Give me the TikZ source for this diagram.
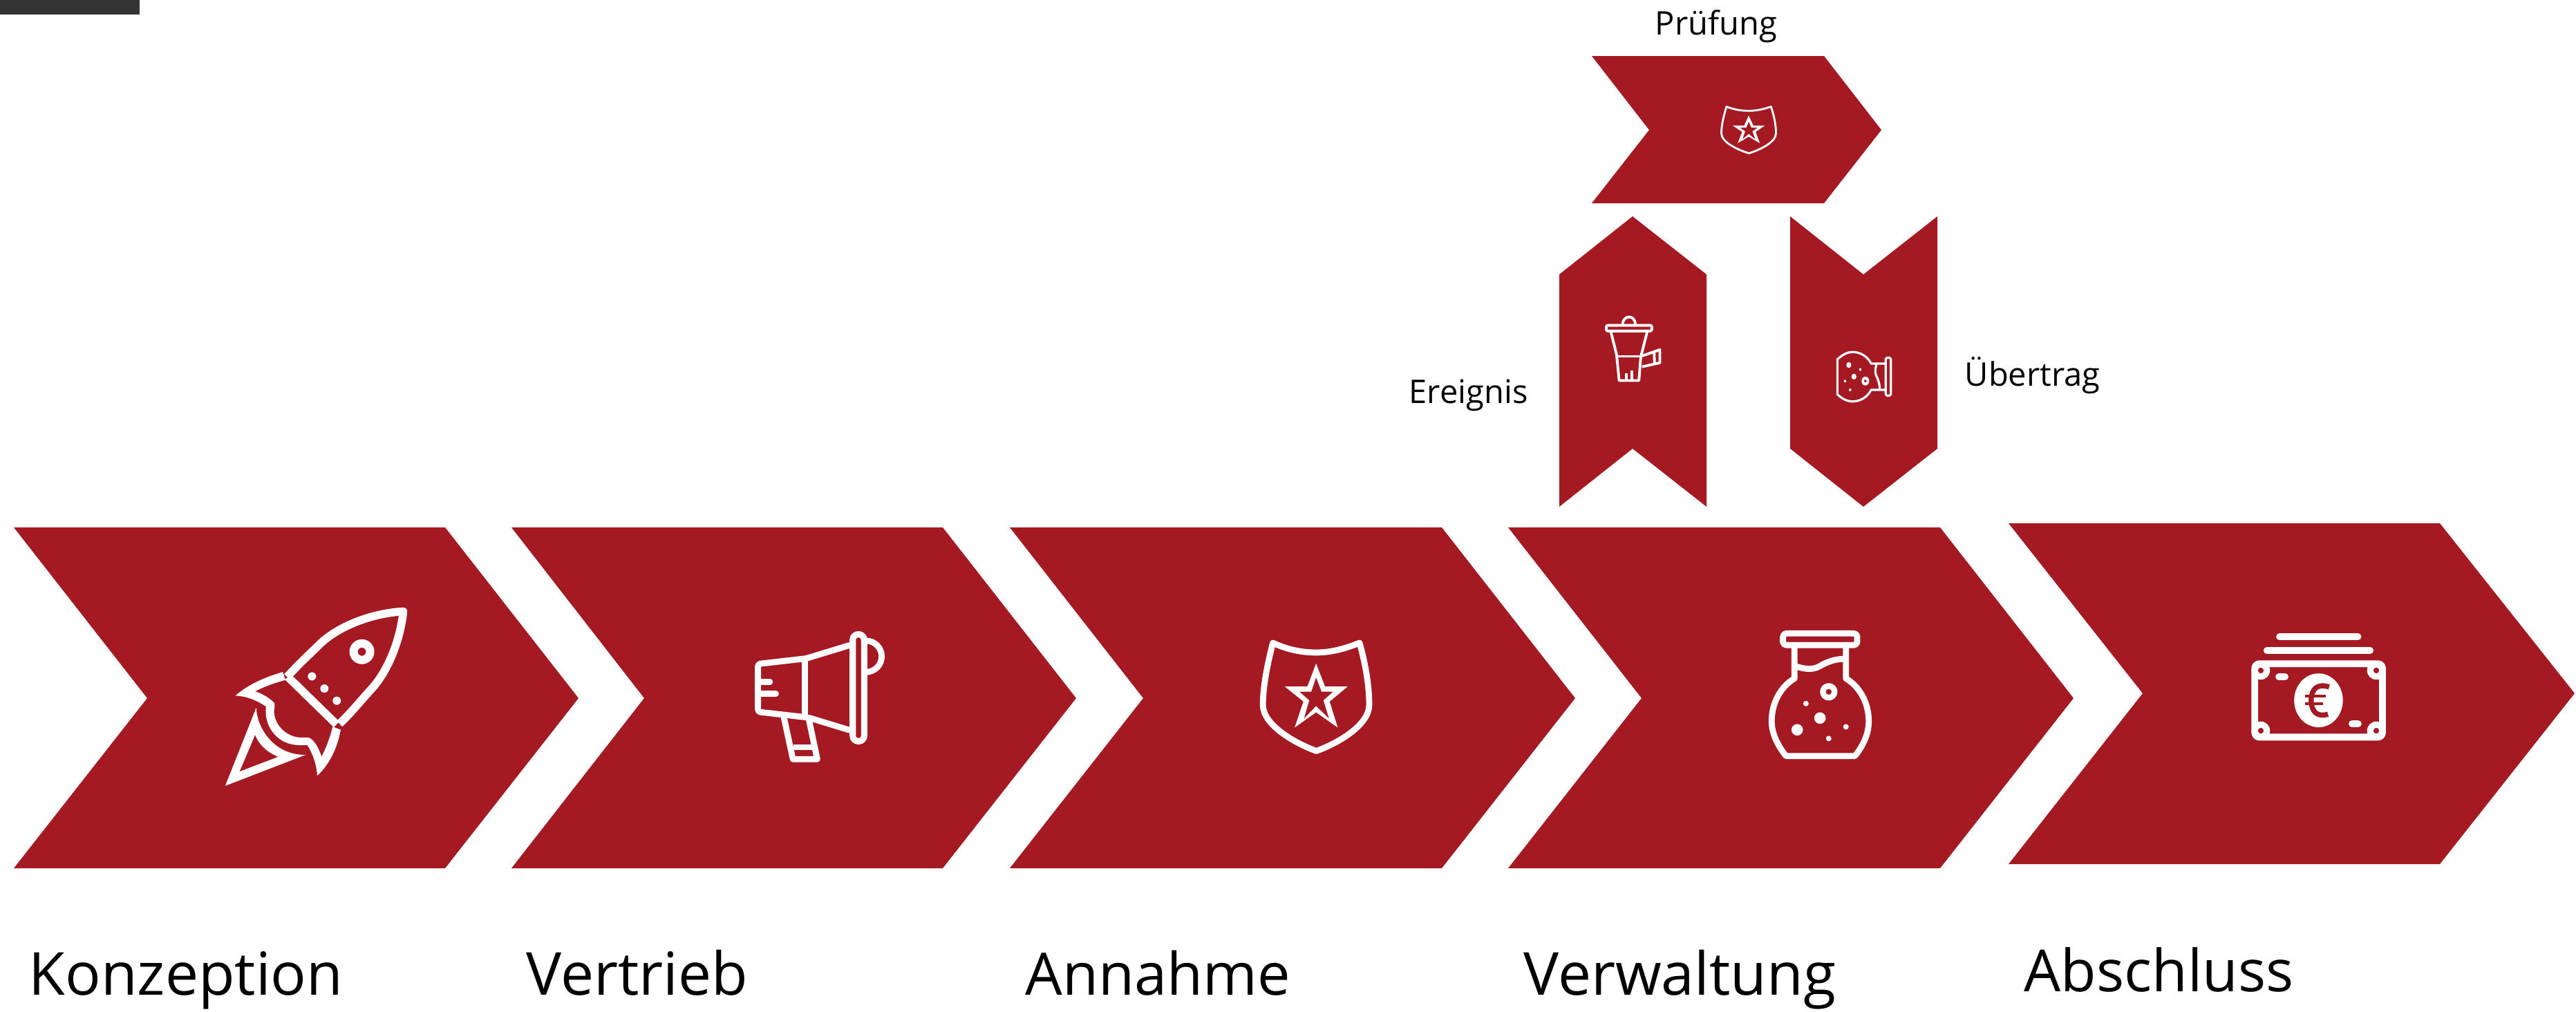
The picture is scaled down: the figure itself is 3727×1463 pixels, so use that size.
\documentclass[tikz,border=0pt]{standalone}
\usepackage{fontspec}
\setmainfont{Open Sans}
\definecolor{chevred}{HTML}{A51A22}
\definecolor{topbar}{HTML}{333333}
\tikzset{
  chev/.style={fill=chevred,draw=none},
  biglabel/.style={anchor=base west,inner sep=0pt,font=\fontsize{24.4}{30}\selectfont,text=black},
  smalllabel/.style={anchor=base west,inner sep=0pt,font=\fontsize{13.4}{16}\selectfont,text=black},
  zoomed/.style 2 args={shift={(#1,#2)},x=0.003333cm,y=-0.003333cm},
  ico/.style={draw=white,line join=round,fill=none}
}
% icons drawn in local coordinates; #1 = line width
\newcommand{\shieldicon}[1]{%
  \draw[ico,line width=#1] (245,90) .. controls (310,120) and (370,132) .. (434,132) .. controls (500,132) and (560,115) .. (622,90) .. controls (650,190) and (664,280) .. (664,360) .. controls (664,450) and (520,530) .. (434,560) .. controls (350,530) and (202,450) .. (202,360) .. controls (202,280) and (220,190) .. (245,90) -- cycle;
  \fill[white,even odd rule] (433,180) -- (472,280) -- (570,280) -- (492,345) -- (527,458) -- (433,392) -- (340,458) -- (378,345) -- (297,280) -- (395,280) -- cycle
    (433,240) -- (457,302) -- (508,302) -- (465,340) -- (490,420) -- (433,365) -- (380,420) -- (403,340) -- (360,302) -- (412,302) -- cycle;
}
% #1 = line width, #2 = corner radius of the cap
\newcommand{\flaskicon}[2]{%
  \draw[ico,line width=#1,rounded corners=#2] (179,79) -- (502,79) -- (502,130) -- (179,130) -- cycle;
  \draw[ico,line width=#1] (229,130) -- (229,275) .. controls (170,310) and (130,380) .. (130,460) .. controls (130,520) and (160,570) .. (192,612) -- (492,612) .. controls (525,570) and (552,520) .. (552,460) .. controls (552,380) and (512,310) .. (453,275) -- (453,130);
  \draw[ico,line width=#1] (235,222) .. controls (290,240) and (320,235) .. (350,215) .. controls (380,200) and (410,190) .. (445,190);
  \fill[white,even odd rule] (378,333) circle [radius=38] (378,333) circle [radius=13];
  \fill[white] (279,384) circle [radius=12] (340,447) circle [radius=25] (241,498) circle [radius=25] (453,485) circle [radius=12] (378,536) circle [radius=12];
}
\begin{document}
\begin{tikzpicture}[x=0.01cm,y=-0.01cm]
\fill[white] (0,0) rectangle (3727,1463);
\useasboundingbox (0,0) rectangle (3727,1463);
\fill[topbar] (0,0) rectangle (202,21);
% main chevrons
\fill[chev] (20,763) -- (644,763) -- (837,1010) -- (644,1256) -- (20,1256) -- (213,1010) -- cycle;
\fill[chev] (740,763) -- (1364,763) -- (1557,1010) -- (1364,1256) -- (740,1256) -- (932,1010) -- cycle;
\fill[chev] (1461,763) -- (2086,763) -- (2279,1010) -- (2086,1256) -- (1461,1256) -- (1654,1010) -- cycle;
\fill[chev] (2182,763) -- (2807,763) -- (3000,1010) -- (2807,1256) -- (2182,1256) -- (2375,1010) -- cycle;
\fill[chev] (2906,757) -- (3530,757) -- (3725,1003) -- (3530,1250) -- (2906,1250) -- (3100,1003) -- cycle;
% upper chevrons
\fill[chev] (2303,81) -- (2639,81) -- (2722,188) -- (2639,294) -- (2303,294) -- (2386,188) -- cycle;
\fill[chev] (2362,313) -- (2469,397) -- (2469,733) -- (2362,649) -- (2256,733) -- (2256,397) -- cycle;
\fill[chev] (2590,313) -- (2696,397) -- (2803,313) -- (2803,649) -- (2696,733) -- (2590,649) -- cycle;
% rocket
\begin{scope}[zoomed={250}{820}]
  \draw[ico,line width=3.3pt] (497,478) .. controls (560,410) and (600,375) .. (640,335) .. controls (730,250) and (880,200) .. (1002,194) .. controls (990,310) and (940,450) .. (860,535) .. controls (810,590) and (770,640) .. (725,682);
  \draw[ico,line width=3.3pt] (500,478) -- (712,685);
  \fill[white,even odd rule] (822,369) circle [radius=54] (822,369) circle [radius=18];
  \fill[white] (605,476) circle [radius=18] (659,529) circle [radius=18] (713,582) circle [radius=18];
  \fill[white] (272,560) .. controls (330,510) and (400,480) .. (478,457) -- (490,492) .. controls (440,505) and (400,520) .. (358,541) .. controls (390,552) and (420,570) .. (440,590) .. controls (445,600) and (443,610) .. (441,620) .. controls (435,680) and (490,742) .. (560,742) -- (590,742) .. controls (615,750) and (635,790) .. (647,825) .. controls (670,780) and (685,735) .. (695,695) -- (730,708) .. controls (715,790) and (680,860) .. (628,908) .. controls (625,860) and (610,815) .. (585,775) -- (550,775) .. controls (460,775) and (395,700) .. (405,607) .. controls (360,578) and (320,562) .. (272,560) -- cycle;
  \fill[white,even odd rule] (228,952) -- (363,612) .. controls (365,700) and (440,820) .. (578,817) -- cycle
    (290,890) -- (358,730) .. controls (375,775) and (410,805) .. (458,826) -- cycle;
\end{scope}
% megaphone
\begin{scope}[zoomed={1050}{880}]
  \draw[ico,line width=2.5pt,rounded corners=1pt] (540,160) -- (350,218) -- (140,242) -- (140,450) -- (360,475) -- (540,530);
  \draw[ico,line width=2.5pt] (345,218) -- (345,472);
  \draw[ico,line width=2.6pt,rounded corners=2.3pt] (552,113) -- (602,113) -- (602,578) -- (552,578) -- cycle;
  \draw[ico,line width=2.5pt] (610,277) arc [start angle=90,end angle=-90,radius=68];
  \draw[ico,line width=2.5pt,line cap=round] (140,320) -- (192,320) (140,372) -- (218,372);
  \draw[ico,line width=2.5pt] (252,470) -- (292,656) -- (398,656) -- (362,485);
  \draw[ico,line width=2.5pt] (295,604) -- (378,604);
\end{scope}
% shield
\begin{scope}[zoomed={1760}{900}]
  \shieldicon{2.5pt}
\end{scope}
% flask
\begin{scope}[zoomed={2520}{890}]
  \flaskicon{2.5pt}{1.4pt}
\end{scope}
% money
\begin{scope}[zoomed={3220}{890}]
  \draw[ico,line width=2.9pt,line cap=round] (235,94) -- (575,94) (180,153) -- (628,153);
  \draw[ico,line width=2.8pt,rounded corners=1.9pt] (127,211) -- (682,211) -- (682,530) -- (127,530) -- cycle;
  \foreach \cx/\cy in {153/240,655/240,153/502,655/502}
    \fill[white,even odd rule] (\cx,\cy) circle [radius=40] (\cx,\cy) circle [radius=13];
  \draw[ico,line width=2.9pt,line cap=round] (232,268) -- (258,268) (550,472) -- (576,472);
  \fill[white] (404,370) ellipse [x radius=106,y radius=117];
  \draw[draw=chevred,line width=2.1pt] (450,312) .. controls (400,295) and (372,320) .. (372,370) .. controls (372,420) and (400,445) .. (445,430);
  \draw[draw=chevred,line width=1.3pt] (346,352) -- (435,352) (346,385) -- (425,385);
\end{scope}
% small shield (Pruefung)
\begin{scope}[shift={(2530,188)},x=0.00171cm,y=-0.00143cm,shift={(-433,-325)}]
  \shieldicon{0.8pt}
\end{scope}
% small cup (Ereignis)
\begin{scope}[zoomed={2290}{430}]
  \draw[ico,line width=1.1pt,rounded corners=0.7pt] (102,122) -- (300,122) -- (300,147) -- (102,147) -- cycle;
  \draw[ico,line width=1.1pt] (173,118) .. controls (175,75) and (228,75) .. (228,118);
  \draw[ico,line width=1.1pt] (122,150) -- (147,250) -- (158,362) -- (244,362) -- (252,260) -- (280,150);
  \draw[ico,line width=1.1pt] (150,257) -- (252,257);
  \draw[ico,line width=1.1pt] (190,362) -- (190,330) (212,362) -- (212,318);
  \draw[ico,line width=1.1pt] (258,255) -- (335,228) -- (335,285) -- (258,302) (310,238) -- (312,290);
\end{scope}
% small flask (Uebertrag), turned a quarter clockwise
\begin{scope}[shift={(2747.1,487.2)},x={(0cm,-0.0017cm)},y={(-0.00145cm,0cm)}]
  \flaskicon{0.9pt}{0.5pt}
\end{scope}
% labels
\node[biglabel] (konzeption) at (41,1439) {Konzeption};
\node[biglabel] (vertrieb) at (761,1439) {Vertrieb};
\node[biglabel,font=\fontsize{24.1}{30}\selectfont] (annahme) at (1483,1439) {Annahme};
\node[biglabel] (verwaltung) at (2204,1439) {Verwaltung};
\node[biglabel,font=\fontsize{23.9}{30}\selectfont] (abschluss) at (2928,1434) {Abschluss};
\node[smalllabel] (pruefung) at (2394,50) {Prüfung};
\node[smalllabel] (ereignis) at (2038,583) {Ereignis};
\node[smalllabel] (uebertrag) at (2842,558) {Übertrag};
\end{tikzpicture}
\end{document}
